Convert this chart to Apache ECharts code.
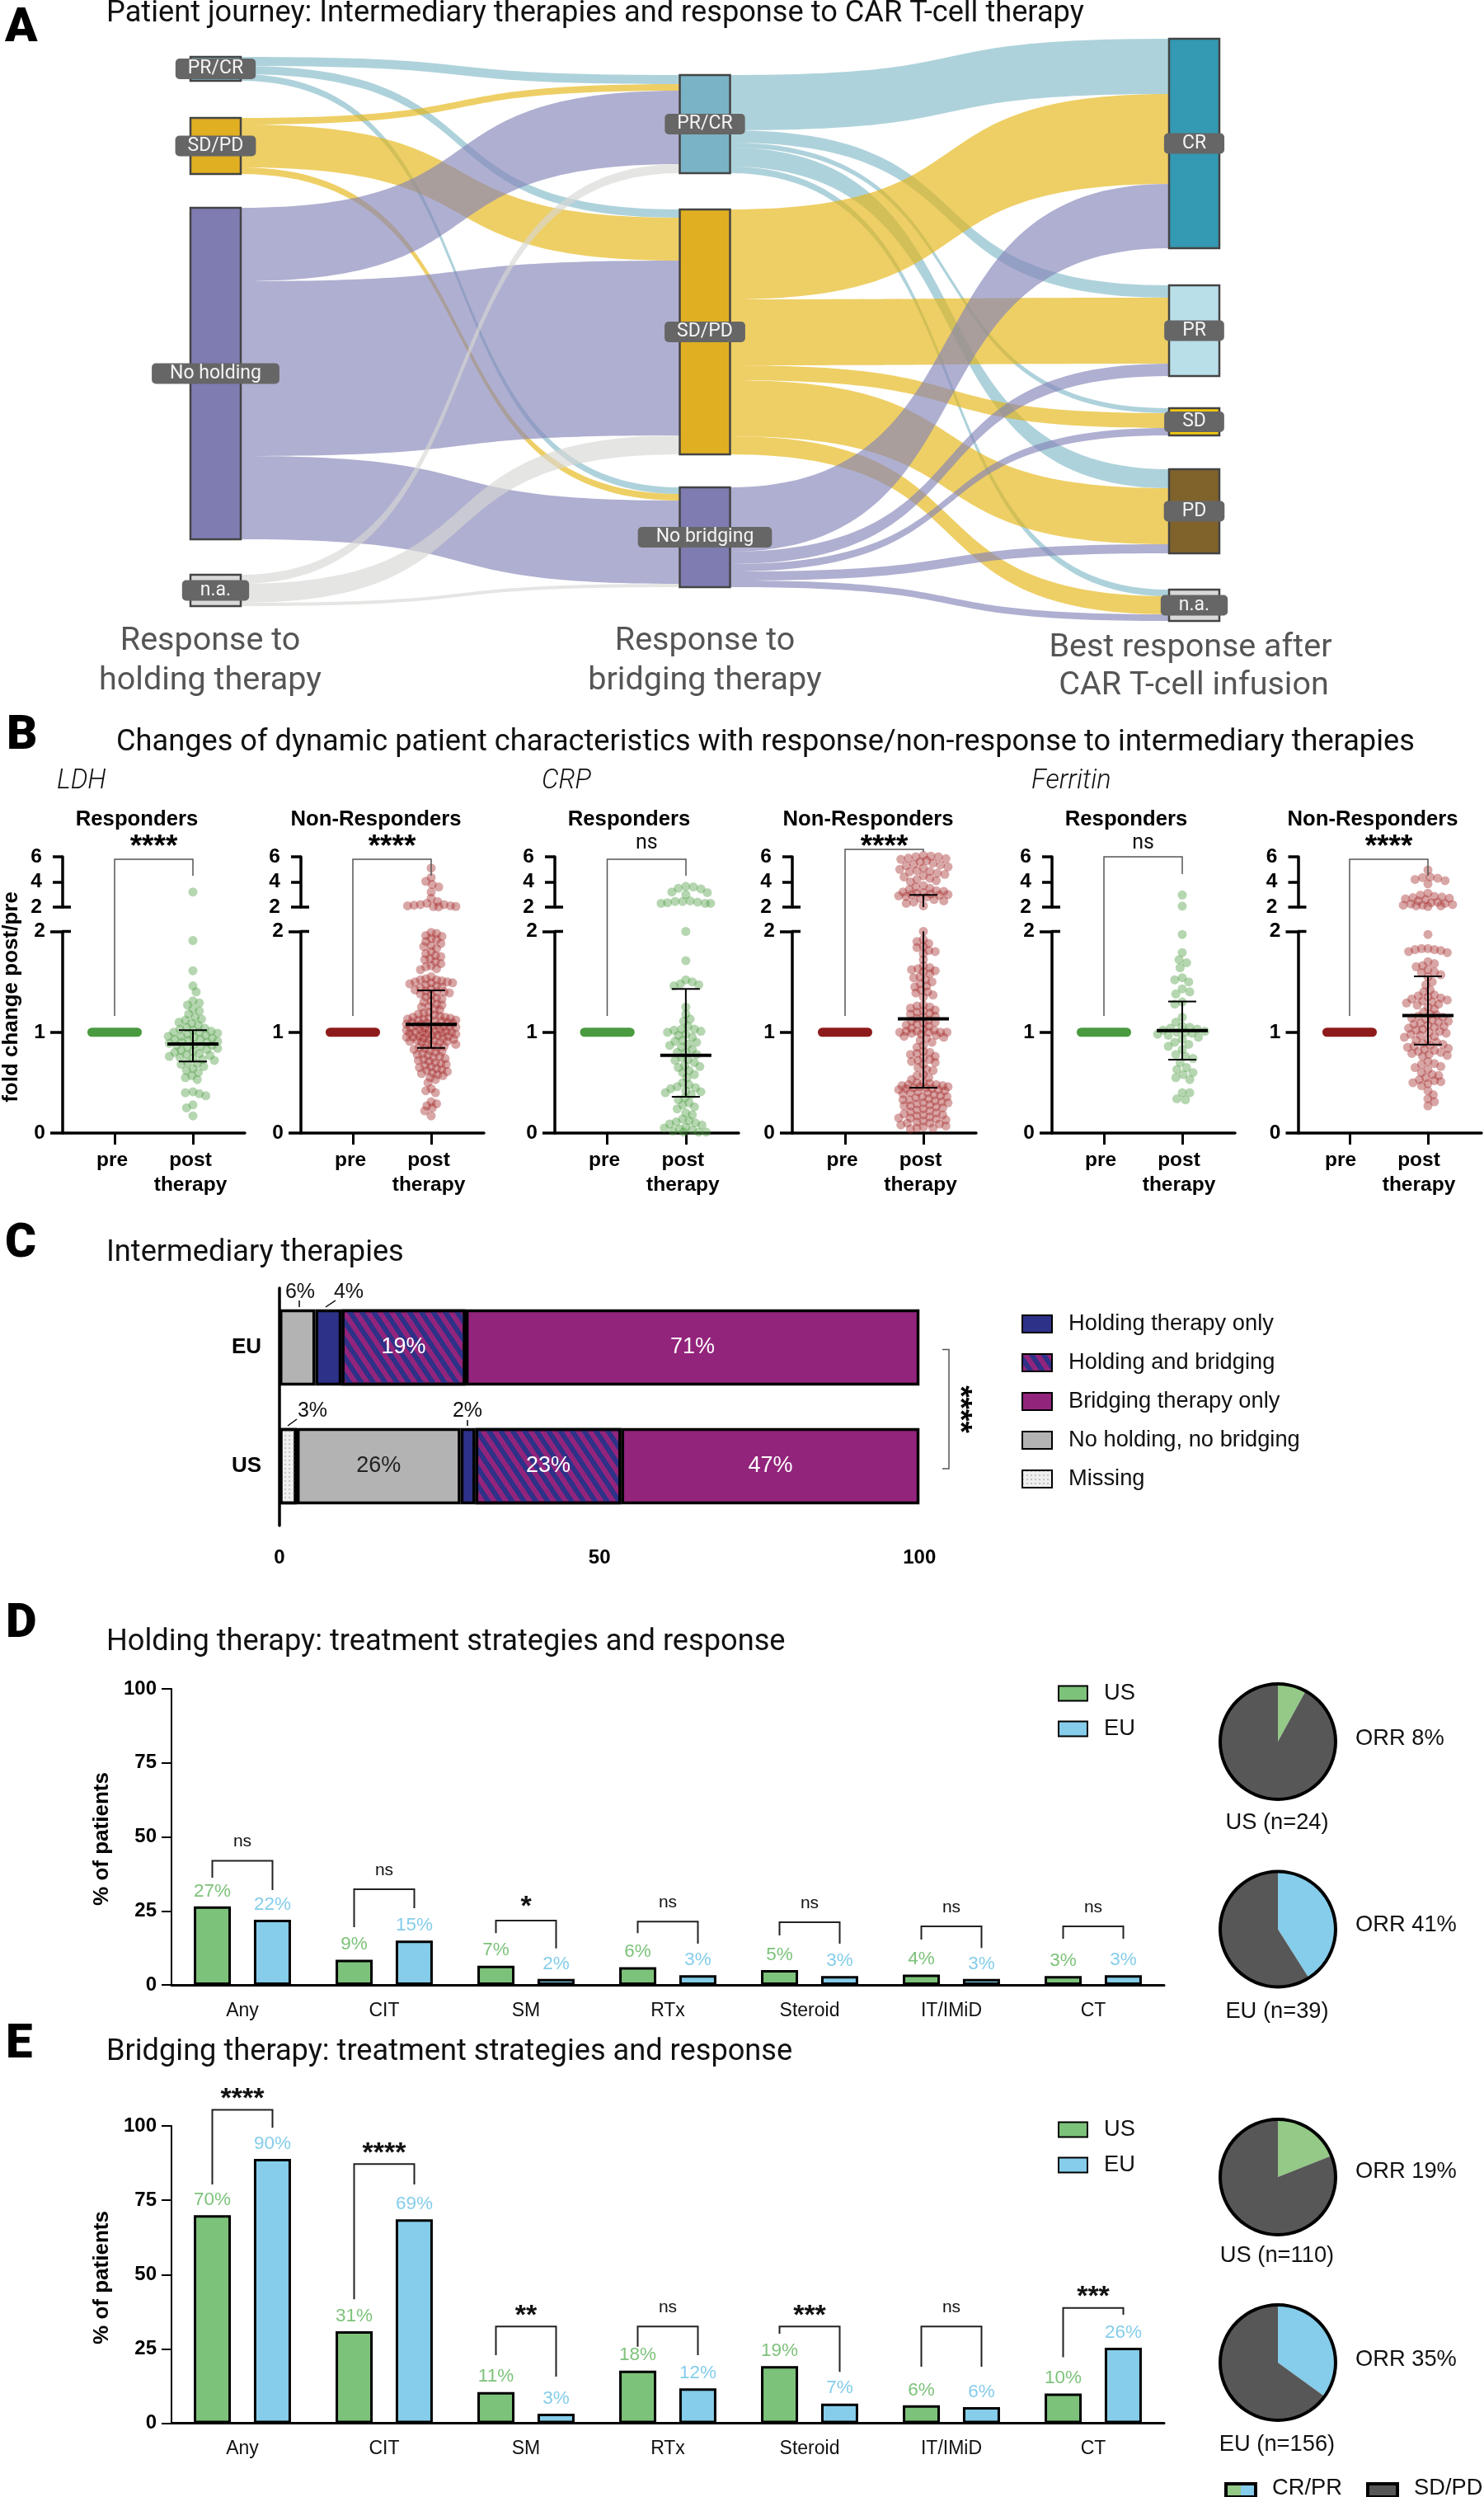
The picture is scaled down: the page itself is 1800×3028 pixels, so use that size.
<!DOCTYPE html>
<html><head><meta charset="utf-8">
<style>html,body{margin:0;padding:0;background:#fff}#c{width:1800px;height:3028px}</style>
<script src="https://cdn.jsdelivr.net/npm/echarts@6/dist/echarts.min.js"></script>
</head><body><div id="c"></div>
<script>
// ---------- Panel A data ----------
const holdingStates = ['PR/CR','SD/PD','No holding','n.a.'];
const bridgingStates = ['PR/CR','SD/PD','No bridging'];
const bestStates = ['CR','PR','SD','PD','n.a.'];
const fromHoldingPRCR = [11,10,8];
const fromHoldingSDPD = [8,52,8];
const fromHoldingNone = [89,212,101];
const fromHoldingNA = [11,23,4];
const fromBridgingPRCR = [67,15,6,23,8];
const fromBridgingSDPD = [109,80,18,68,22];
const fromBridgingNone = [78,15,9,11,8];

// ---------- Panel B data ----------
const panelNames = ['LDH R','LDH NR','CRP R','CRP NR','Ferritin R','Ferritin NR'];
const ldhR = [3.2,1.91,1.61,1.46,1.40,1.31,1.29,1.27,1.23,1.21,1.18,1.15,1.13,1.12,1.10,1.09,1.07,1.05,1.04,1.03,1.02,1.01,1.00,1.00,.99,.98,.97,.96,.96,.95,.94,.93,.93,.92,.91,.90,.90,.89,.88,.87,.87,.86,.85,.84,.83,.82,.81,.80,.79,.78,.77,.76,.75,.74,.73,.72,.70,.69,.68,.66,.64,.62,.60,.57,.55,.53,.41,.40,.39,.37,.28,.25,.17];
const ldhNR = [5.1,4.35,4.05,3.8,3.6,3.2,2.7,2.45,2.3,2.2,2.2,2.15,2.1,2.1,2.05,2.05,2.02,1.99,1.98,1.96,1.95,1.93,1.92,1.90,1.88,1.86,1.85,1.83,1.80,1.78,1.76,1.75,1.73,1.72,1.70,1.68,1.66,1.65,1.63,1.62,1.55,1.53,1.52,1.52,1.51,1.50,1.50,1.49,1.49,1.48,1.47,1.46,1.45,1.44,1.43,1.42,1.41,1.40,1.40,1.39,1.38,1.37,1.35,1.34,1.33,1.31,1.30,1.28,1.27,1.26,1.25,1.23,1.22,1.20,1.19,1.18,1.17,1.16,1.15,1.15,1.14,1.14,1.13,1.13,1.12,1.12,1.11,1.11,1.10,1.10,1.09,1.09,1.08,1.08,1.07,1.07,1.06,1.06,1.05,1.05,1.04,1.04,1.03,1.03,1.02,1.02,1.01,1.01,1.00,1.00,1.00,.99,.99,.98,.98,.97,.97,.96,.96,.95,.95,.94,.94,.93,.93,.92,.92,.91,.91,.90,.90,.89,.88,.87,.86,.85,.85,.84,.83,.82,.81,.80,.79,.78,.77,.76,.75,.74,.73,.72,.71,.70,.69,.68,.67,.66,.65,.64,.63,.62,.61,.60,.59,.58,.57,.55,.53,.50,.44,.42,.40,.31,.29,.27,.25,.22,.17];
const crpR = [3.65,3.6,3.5,3.45,3.2,3.15,3.0,2.5,2.45,2.45,2.4,2.35,2.3,2.3,2.3,2.0,1.71,1.52,1.50,1.48,1.47,1.46,1.25,1.18,1.13,1.11,1.06,1.03,1.03,1.02,1.01,1.00,.98,.97,.95,.92,.91,.90,.88,.87,.85,.83,.80,.80,.78,.75,.73,.72,.70,.67,.66,.65,.62,.60,.58,.55,.50,.48,.46,.45,.44,.42,.41,.40,.38,.35,.33,.30,.28,.26,.24,.20,.18,.14,.12,.11,.10,.09,.08,.06,.05,.04,.03,.02,.01,.01,.01];
const crpNR = [6.1,6.05,6.0,6.0,5.9,5.85,5.8,5.7,5.6,5.5,5.4,5.35,5.3,5.2,5.1,5.0,4.9,4.85,4.8,4.7,4.6,4.5,4.4,4.3,4.2,4.1,4.0,3.7,3.6,3.5,3.4,3.3,3.25,3.2,3.15,3.1,3.05,3.0,3.0,2.95,2.9,2.85,2.8,2.7,2.6,2.5,2.4,2.3,2.1,2.0,1.92,1.90,1.88,1.85,1.84,1.81,1.80,1.78,1.72,1.66,1.64,1.63,1.62,1.61,1.60,1.58,1.55,1.54,1.52,1.50,1.48,1.46,1.45,1.42,1.40,1.39,1.37,1.35,1.27,1.26,1.25,1.24,1.22,1.21,1.20,1.19,1.18,1.16,1.15,1.14,1.12,1.11,1.10,1.09,1.08,1.07,1.06,1.04,1.03,1.02,1.01,1.01,1.00,1.00,1.00,1.00,.99,.98,.97,.96,.95,.94,.92,.90,.87,.85,.81,.80,.79,.78,.76,.75,.73,.72,.71,.70,.68,.65,.63,.62,.58,.57,.55,.53,.50,.50,.49,.48,.48,.47,.47,.46,.46,.45,.45,.44,.44,.43,.43,.42,.41,.40,.40,.39,.38,.37,.36,.36,.35,.34,.33,.33,.32,.31,.30,.30,.29,.28,.27,.27,.26,.25,.24,.23,.22,.21,.20,.19,.18,.18,.17,.16,.15,.15,.14,.13,.12,.11,.10,.10,.09,.08,.07,.06,.05,.05,.04];
const ferR = [2.96,2.08,1.97,1.79,1.72,1.69,1.64,1.54,1.52,1.50,1.43,1.40,1.38,1.30,1.28,1.15,1.10,1.06,1.05,1.04,1.03,1.02,1.01,1.00,1.00,.99,.98,.97,.95,.93,.90,.88,.86,.83,.78,.76,.74,.70,.65,.63,.60,.58,.55,.53,.40,.40,.34,.33];
const ferNR = [4.95,4.4,4.35,4.3,4.2,4.1,3.85,3.1,2.95,2.85,2.8,2.75,2.7,2.65,2.6,2.5,2.4,2.35,2.3,2.25,2.2,2.15,2.15,2.1,2.1,2.05,1.97,1.83,1.83,1.82,1.82,1.81,1.80,1.79,1.70,1.68,1.66,1.65,1.62,1.60,1.59,1.57,1.55,1.50,1.47,1.42,1.40,1.37,1.36,1.35,1.34,1.33,1.32,1.31,1.30,1.29,1.28,1.27,1.25,1.23,1.20,1.18,1.17,1.16,1.15,1.14,1.13,1.12,1.11,1.10,1.09,1.08,1.07,1.06,1.05,1.04,1.03,1.02,1.01,1.00,.99,.98,.97,.96,.95,.93,.92,.90,.89,.88,.87,.86,.85,.84,.83,.82,.81,.80,.79,.78,.77,.76,.71,.69,.68,.66,.65,.63,.60,.58,.57,.55,.53,.52,.51,.50,.49,.47,.42,.38,.34,.31,.27];
const postValues = [ldhR,ldhNR,crpR,crpNR,ferR,ferNR];
const means = [.883,1.078,.77,1.133,1.016,1.166];
const errLow = [.71,.844,.36,.45,.727,.877];
const errHigh = [1.02,1.416,1.43,2.96,1.305,1.555];
const sigB = ['****','****','ns','****','ns','****'];
const panelTitles = ['Responders','Non-Responders','Responders','Non-Responders','Responders','Non-Responders'];

// ---------- Panel C data ----------
const regions = ['US','EU'];
const missing = [2.7,null];
const noneTherapy = [25.6,5.6];
const holdingOnly = [2.3,4.1];
const holdBridge = [22.8,19.4];
const bridgingOnly = [46.6,70.9];

// ---------- Panels D / E data ----------
const drugClasses = ['Any','CIT','SM','RTx','Steroid','IT/IMiD','CT'];
const holdUS = [26.5,8.5,6.5,6,5,3.5,3];
const holdEU = [22,15,2,3.3,3,2,3.3];
const holdUSLabels = [27,9,7,6,5,4,3];
const holdEULabels = [22,15,2,3,3,3,3];
const holdSig = ['ns','ns','*','ns','ns','ns','ns'];
const holdBrackets = [[41.9,36.2,32],[32.3,19.5,25.9],[21.7,17.5,12.3],[21.4,17.5,13.9],[21.2,16.7,13.9],[19.8,15.3,12.5],[19.8,15.6,15.6]];
const bridgeUS = [70,30.9,10.5,17.7,19.2,6,10];
const bridgeEU = [88.9,68.6,3.2,11.7,6.6,5.4,25.4];
const bridgeUSLabels = [70,31,11,18,19,6,10];
const bridgeEULabels = [90,69,3,12,7,6,26];
const bridgeSig = ['****','****','**','ns','***','ns','***'];
const bridgeBrackets = [[105.4,80.3,99.4],[87.2,41.7,80.3],[32.5,22.9,15.7],[32.5,25.7,22.9],[32.5,30.1,17.3],[32.5,19,19],[38.8,22.2,36.5]];
const orrHoldUS = [8,92], orrHoldEU = [41,59], orrBridgeUS = [19,81], orrBridgeEU = [35,65];

// ---------- Styles and layout ----------
const SANS='"Liberation Sans",Arial,sans-serif', ROB='Roboto,sans-serif';
const GREEN='#7dc27a', BLUE='#85cdea', PIEG='#94c987', DARK='#575757';
const chart = echarts.init(document.getElementById('c'),null,{renderer:'canvas'});
const grid=[],xAxis=[],yAxis=[],series=[],graphic=[];
function T(x,y,text,o){o=o||{};graphic.push({type:'text',x:x,y:y,rotation:o.rot||0,z:50,silent:true,style:{text:text,fill:o.color||'#111',fontFamily:o.family||SANS,fontSize:o.size||26,fontWeight:o.weight||'normal',fontStyle:o.style||'normal',textAlign:o.align||'left',textVerticalAlign:'middle',lineHeight:o.lh}});}
function L(pts,w,c){graphic.push({type:'polyline',z:49,silent:true,shape:{points:pts},style:{stroke:c||'#000',lineWidth:w,fill:null}});}
function STARS(x,y,s,size){T(x,y+size*0.2,s,{size:size,weight:'bold',align:'center',color:'#000'});}

// Panel letters + titles
[['A',6,35],['B',8,893],['C',6,1509],['D',7,1970],['E',7,2480]].forEach(a=>T(a[1],a[2],a[0],{family:ROB,weight:900,size:58,color:'#000'}));
[['Patient journey: Intermediary therapies and response to CAR T-cell therapy',129,17],
 ['Changes of dynamic patient characteristics with response/non-response to intermediary therapies',141,901],
 ['Intermediary therapies',129,1520],['Holding therapy: treatment strategies and response',129,1992],
 ['Bridging therapy: treatment strategies and response',129,2489]].forEach(a=>T(a[1],a[2],a[0],{family:ROB,size:36.2,weight:400}));

// ---------- Panel A: sankey ----------
const nodeColH=['#7ab3c5','#e0af22','#7e7cb0','#d9d9d9'];
const nodeColB=['#7ab3c5','#e0af22','#7e7cb0'];
const nodeColR=['#3499b3','#b9dfe9','#f3c80f','#7f632a','#d9d9d9'];
const nodeTopH=[69,143,252,697], nodeTopB=[91,254,591], nodeTopR=[47,346,495,569,715];
const linkCol=['#82bac7','#e5b512','#8484b8','#d7d7d4'];
const SH=760;
function snode(prefix,name,color,top){const lab=name;const pad=(name==='PR/CR'||name==='SD/PD')?15:22;
 return {name:prefix+name,localY:top/SH,itemStyle:{color:color,borderColor:'#444',borderWidth:2.5},
  label:{show:true,position:'inside',formatter:lab,color:'#f4f4f4',backgroundColor:'#666',borderRadius:5,padding:[1,pad],fontFamily:ROB,fontSize:23}};}
const snodes=[...holdingStates.map((n,i)=>snode('h:',n,nodeColH[i],nodeTopH[i])),
 ...bridgingStates.map((n,i)=>snode('b:',n,nodeColB[i],nodeTopB[i])),
 ...bestStates.map((n,i)=>snode('r:',n,nodeColR[i],nodeTopR[i]))];
const slinks=[];
[fromHoldingPRCR,fromHoldingSDPD,fromHoldingNone,fromHoldingNA].forEach((row,s)=>row.forEach((v,t)=>slinks.push({source:'h:'+holdingStates[s],target:'b:'+bridgingStates[t],value:v,lineStyle:{color:linkCol[s],opacity:.65}})));
[fromBridgingPRCR,fromBridgingSDPD,fromBridgingNone].forEach((row,s)=>row.forEach((v,t)=>slinks.push({source:'b:'+bridgingStates[s],target:'r:'+bestStates[t],value:v,lineStyle:{color:linkCol[s],opacity:.65}})));
const total=[fromBridgingPRCR,fromBridgingSDPD,fromBridgingNone].flat().reduce((a,b)=>a+b,0);
series.push({type:'sankey',left:231,top:0,width:1248,height:SH,nodeWidth:61,nodeGap:(SH-total)/4,layoutIterations:0,draggable:false,silent:true,emphasis:{disabled:true},
 lineStyle:{curveness:.62,opacity:.65},data:snodes,links:slinks});
const capt={family:ROB,size:39.5,color:'#555',align:'center'};
T(255,778,'Response to',capt);T(255,826,'holding therapy',capt);
T(855,778,'Response to',capt);T(855,826,'bridging therapy',capt);
T(1444,786,'Best response after',capt);T(1448,832,'CAR T-cell infusion',capt);

// ---------- Panel B: swarm plots ----------
const pAxis=[76,365,673,961,1276,1574.5], pPre=[139,428,736.5,1025,1339,1637], pPost=[234,523,832,1120,1434,1732], pRight=[297,587,896,1184,1498,1797];
const pLabelPad=[6,6,7,7,8,22];
const pColor=['#4f9e43','#a42a2a'], pPreCol=['#4a9a3f','#8e1b1b'];
const pSpacing=[8,6.6,8,7.2,9,7.6];
const LO_T=1129.5,LO_H=244.5,UP_T=1039,UP_H=61;
function swarm(vals,pxPerUnit,d){const placed=[];const out=[];const step=1.3,maxH=31;
 vals.slice().sort((a,b)=>b-a).forEach((v,i)=>{const yp=v*pxPerUnit;let found=null,bestD=-1,bestO=0;
  const sign=i%2?1:-1;
  for(let k=0;k<=2*maxH/step;k++){const off=sign*(k%2?1:-1)*Math.ceil(k/2)*step;if(Math.abs(off)>maxH)break;
   let m=1e9;for(const p of placed){const dd=Math.hypot(p[0]-off,p[1]-yp);if(dd<m)m=dd;}
   if(m>=d){found=off;break;} if(m>bestD){bestD=m;bestO=off;}}
  const o=found!==null?found:bestO;placed.push([o,yp]);out.push([2+o/95,v]);});
 return out;}
panelNames.forEach((nm,i)=>{
 const ax=pAxis[i],cl=(i%2),sp=95;
 const xmin=1-(pPre[i]-ax)/sp,xmax=2+(pRight[i]-pPost[i])/sp;
 const gLo=grid.length;grid.push({left:ax,top:LO_T,width:pRight[i]-ax,height:LO_H});
 const gUp=grid.length;grid.push({left:ax,top:UP_T,width:pRight[i]-ax,height:UP_H});
 const lbl={fontFamily:SANS,fontWeight:'bold',fontSize:24.5,color:'#000'};
 xAxis.push({gridIndex:gLo,type:'value',min:xmin,max:xmax,splitLine:{show:false},axisLine:{onZero:false,lineStyle:{color:'#000',width:3.5}},
   axisTick:{customValues:[1,2],length:14,lineStyle:{color:'#000',width:3}},axisLabel:Object.assign({},lbl,{customValues:[1,2],margin:18,lineHeight:30,padding:[0,pLabelPad[i],0,0],formatter:v=>v===1?'pre':'post\ntherapy'})});
 xAxis.push({gridIndex:gUp,type:'value',min:xmin,max:xmax,show:false,splitLine:{show:false}});
 yAxis.push({gridIndex:gLo,type:'value',min:0,max:2,interval:1,splitLine:{show:false},axisLine:{show:true,onZero:false,lineStyle:{color:'#000',width:3.5}},axisTick:{show:true,length:15,lineStyle:{color:'#000',width:3.5}},axisLabel:Object.assign({},lbl,{margin:21})});
 yAxis.push({gridIndex:gUp,type:'value',min:2,max:6,interval:2,splitLine:{show:false},axisLine:{show:true,onZero:false,lineStyle:{color:'#000',width:3.5}},axisTick:{show:true,length:12,lineStyle:{color:'#000',width:3.5}},axisLabel:Object.assign({},lbl,{margin:25})});
 L([[ax,UP_T+UP_H],[ax+10,UP_T+UP_H]],3.5);L([[ax,LO_T],[ax+10,LO_T]],3.5);
 const xa=xAxis.length-2,ya=yAxis.length-2;
 const vals=postValues[i];
 const mk=(data,xi,yi)=>({type:'scatter',xAxisIndex:xi,yAxisIndex:yi,data:data,symbolSize:11,clip:false,silent:true,itemStyle:{color:pColor[cl],opacity:.42},z:3});
 series.push(mk(swarm(vals.filter(v=>v<=2),LO_H/2,pSpacing[i]),xa,ya));
 series.push(mk(swarm(vals.filter(v=>v>2),UP_H/4,pSpacing[i]+1),xa+1,ya+1));
 series.push({type:'line',xAxisIndex:xa,yAxisIndex:ya,data:[[1-.29,1],[1+.29,1]],showSymbol:false,silent:true,lineStyle:{color:pPreCol[cl],width:11,cap:'round'},z:4});
 const hi=errHigh[i];
 series.push({type:'custom',xAxisIndex:xa,yAxisIndex:ya,silent:true,z:6,encode:{x:0,y:1},data:[[2,means[i],errLow[i],hi]],
  renderItem:(p,api)=>{const c=(x,y)=>api.coord([x,y]);const m=c(2,api.value(1)),lo=c(2,api.value(2)),h=api.value(3),up=c(2,Math.min(h,2));
   const ln=(a,b,w)=>({type:'line',shape:{x1:a[0],y1:a[1],x2:b[0],y2:b[1]},style:{stroke:'#000',lineWidth:w}});
   const ch=[ln([m[0]-31,m[1]],[m[0]+31,m[1]],4),ln(lo,up,2),ln([lo[0]-17,lo[1]],[lo[0]+17,lo[1]],2)];
   if(h<=2)ch.push(ln([up[0]-17,up[1]],[up[0]+17,up[1]],2));
   return {type:'group',children:ch};}});
 if(hi>2)series.push({type:'custom',xAxisIndex:xa+1,yAxisIndex:ya+1,silent:true,z:6,encode:{x:0,y:1},data:[[2,hi]],
  renderItem:(p,api)=>{const a=api.coord([2,2]),b=api.coord([2,api.value(1)]);
   const ln=(a,b,w)=>({type:'line',shape:{x1:a[0],y1:a[1],x2:b[0],y2:b[1]},style:{stroke:'#000',lineWidth:w}});
   return {type:'group',children:[ln(a,b,2),ln([b[0]-17,b[1]],[b[0]+17,b[1]],2)]};}});
 // significance bracket
 const top=i===3?1030:(i===4?1039:1042), rl=i===3?1033:(i===4?1060:1062);
 L([[pPre[i],1232],[pPre[i],top],[pPost[i],top],[pPost[i],rl]],1.5,'#555');
 const cx=(pPre[i]+pPost[i])/2;
 if(sigB[i]==='ns')T(cx,1023,'ns',{size:25,align:'center',color:'#111',family:ROB});else STARS(cx,1020,sigB[i],37);
 T([166,456,763,1053,1366,1665][i],994,panelTitles[i],{size:25.7,weight:'bold',align:'center',color:'#000'});
});
const ital={family:ROB,size:32.5,style:'italic',weight:300};
T(69,948,'LDH',ital);T(657,948,'CRP',ital);T(1251,948,'Ferritin',ital);
T(14,1209,'fold change post/pre',{size:26,weight:'bold',rot:Math.PI/2,align:'center',color:'#000'});

// ---------- Panel C: stacked bars ----------
const gC=grid.length;grid.push({left:339,top:1562,width:812,height:288});
xAxis.push({gridIndex:gC,type:'value',min:0,max:104.6,splitLine:{show:false},axisLine:{lineStyle:{color:'#000',width:4.5}},
 axisTick:{customValues:[0,25,50,75,100],length:14,lineStyle:{color:'#000',width:3.5}},
 axisLabel:{customValues:[0,50,100],margin:27,fontFamily:SANS,fontWeight:'bold',fontSize:24,color:'#000'}});
yAxis.push({gridIndex:gC,type:'category',data:regions,axisLine:{lineStyle:{color:'#000',width:3.5}},axisTick:{length:17,alignWithLabel:true,lineStyle:{color:'#000',width:4.5}},
 axisLabel:{margin:22,fontFamily:SANS,fontWeight:'bold',fontSize:26,color:'#000'}});
const xC=xAxis.length-1,yC=yAxis.length-1;
const stripe={symbol:'rect',rotation:Math.PI/3.2,dashArrayX:[1,0],dashArrayY:[6,6],symbolSize:1,color:'#2e3188'};
const dots={symbol:'rect',symbolSize:1,dashArrayX:[2,3],dashArrayY:[2,3],color:'#c4c4c4'};
function cBar(name,data,color,labelColor,decal){series.push({type:'bar',name:name,xAxisIndex:xC,yAxisIndex:yC,stack:'c',data:data,barWidth:92.5,silent:true,
 itemStyle:{color:color,borderColor:'#000',borderWidth:3.5,decal:decal},
 label:{show:true,position:'inside',color:labelColor,fontFamily:SANS,fontSize:27,formatter:p=>(p.value>=10?Math.round(p.value)+'%':'')}});}
cBar('Missing',missing,'#efefef','#222',dots);
cBar('No holding, no bridging',noneTherapy,'#b3b3b3','#222');
cBar('Holding therapy only',holdingOnly,'#2e3188','#fff');
cBar('Holding and bridging',holdBridge,'#93247c','#fff',stripe);
cBar('Bridging therapy only',bridgingOnly,'#93247c','#fff');
T(364,1567,'6%',{size:25,align:'center'});T(423,1567,'4%',{size:25,align:'center'});
T(379,1711,'3%',{size:25,align:'center'});T(567,1711,'2%',{size:25,align:'center'});
L([[363,1577],[363,1585]],1.5);L([[407,1577],[395,1585]],1.5);L([[360,1721],[349,1729]],1.5);L([[567,1722],[567,1729]],1.5);
L([[1143,1636.5],[1151,1636.5],[1151,1781],[1143,1781]],1.5,'#555');
T(1163,1709,'****',{size:37,weight:'bold',align:'center',rot:-Math.PI/2,color:'#000'});

// ---------- Panels D/E: grouped bars ----------
function barPanel(top,h,maxV,us,eu,usL,euL,sig,br,sigOff){
 const g=grid.length;grid.push({left:208,top:top,width:1204,height:h});
 xAxis.push({gridIndex:g,type:'category',data:drugClasses,axisLine:{lineStyle:{color:'#000',width:3}},axisTick:{alignWithLabel:true,length:14,lineStyle:{color:'#000',width:2}},axisLabel:{margin:20,fontFamily:SANS,fontSize:23,color:'#111'}});
 yAxis.push({gridIndex:g,type:'value',min:0,max:100,interval:25,splitLine:{show:false},axisLine:{show:true,lineStyle:{color:'#000',width:2}},axisTick:{show:true,length:12,lineStyle:{color:'#000',width:2}},axisLabel:{margin:18,fontFamily:SANS,fontWeight:'bold',fontSize:24,color:'#000'}});
 const xi=xAxis.length-1,yi=yAxis.length-1;
 const mk=(name,data,color,labels)=>({type:'bar',name:name,xAxisIndex:xi,yAxisIndex:yi,data:data,barWidth:45,barGap:'62%',silent:true,itemStyle:{color:color,borderColor:'#000',borderWidth:3},
   label:{show:true,position:'top',distance:7,color:color,fontFamily:SANS,fontSize:22.5,formatter:p=>labels[p.dataIndex]+'%'}});
 series.push(mk('US',us,GREEN,usL),mk('EU',eu,BLUE,euL));
 series.push({type:'custom',xAxisIndex:xi,yAxisIndex:yi,silent:true,z:6,encode:{x:0,y:1},clip:false,
  data:br.map((b,i)=>[i,b[0],b[1],b[2]]),
  renderItem:(p,api)=>{const i=api.value(0),t=api.coord([i,api.value(1)]),l=api.coord([i,api.value(2)]),r=api.coord([i,api.value(3)]);
   const s=sig[i],ns=s==='ns';
   return {type:'group',children:[
    {type:'polyline',shape:{points:[[t[0]-36.5,l[1]],[t[0]-36.5,t[1]],[t[0]+36.5,t[1]],[t[0]+36.5,r[1]]]},style:{stroke:'#222',lineWidth:2,fill:null}},
    {type:'text',style:{text:s,x:t[0],y:t[1]-(ns?sigOff[0]:sigOff[1]),textAlign:'center',textVerticalAlign:'middle',fontFamily:SANS,fontSize:ns?21:34,fontWeight:ns?'normal':'bold',fill:'#111'}}]};}});
}
barPanel(2048,359,100,holdUS,holdEU,holdUSLabels,holdEULabels,holdSig,holdBrackets,[23,16]);
barPanel(2578,360.5,100,bridgeUS,bridgeEU,bridgeUSLabels,bridgeEULabels,bridgeSig,bridgeBrackets,[23,13]);
T(124,2230,'% of patients',{size:26,weight:'bold',rot:Math.PI/2,align:'center',color:'#000'});
T(124,2762,'% of patients',{size:26,weight:'bold',rot:Math.PI/2,align:'center',color:'#000'});

// ---------- Pies ----------
function pie(cy,vals,col,text,orrY,orr,nY){
 series.push({type:'pie',center:[1550,cy],radius:[0,69],startAngle:90,silent:true,label:{show:false},labelLine:{show:false},itemStyle:{borderWidth:0},
  data:[{name:'CR/PR',value:vals[0],itemStyle:{color:col}},{name:'SD/PD',value:vals[1],itemStyle:{color:DARK}}]});
 series.push({type:'pie',center:[1550,cy],radius:[68,72],silent:true,label:{show:false},labelLine:{show:false},data:[{name:'ring',value:1,itemStyle:{color:'#000'}}]});
 T(1644,orrY,orr,{size:27.3});T(1549,nY,text,{size:27.3,align:'center'});
}
pie(2112,orrHoldUS,PIEG,'US (n=24)',2108,'ORR 8%',2210);
pie(2339.5,orrHoldEU,BLUE,'EU (n=39)',2334,'ORR 41%',2439);
pie(2640,orrBridgeUS,PIEG,'US (n=110)',2633.5,'ORR 19%',2735.5);
pie(2865,orrBridgeEU,BLUE,'EU (n=156)',2861,'ORR 35%',2964.5);
graphic.push({type:'rect',z:40,silent:true,shape:{x:1487,y:3012,width:18,height:16},style:{fill:PIEG}});
graphic.push({type:'rect',z:40,silent:true,shape:{x:1505,y:3012,width:18,height:16},style:{fill:BLUE}});
graphic.push({type:'rect',z:41,silent:true,shape:{x:1487,y:3012,width:36,height:16},style:{fill:null,stroke:'#000',lineWidth:4}});
graphic.push({type:'rect',z:40,silent:true,shape:{x:1659,y:3012,width:36,height:16},style:{fill:DARK,stroke:'#000',lineWidth:4}});
T(1543,3017,'CR/PR',{size:27.3});T(1715,3017,'SD/PD',{size:27.3});

const legText={fontFamily:SANS,fontSize:27.3,color:'#111',padding:[0,0,0,15]};
const option={animation:false,backgroundColor:'#fff',grid,xAxis,yAxis,series,
 graphic:{elements:graphic},
 legend:[
  {left:1239,top:1592,padding:0,orient:'vertical',itemWidth:36,itemHeight:21,itemGap:20,selectedMode:false,textStyle:legText,icon:'rect',
   data:['Holding therapy only','Holding and bridging','Bridging therapy only','No holding, no bridging','Missing']},
  {left:1283,top:2040,padding:0,orient:'vertical',itemWidth:35,itemHeight:18,itemGap:16,selectedMode:false,textStyle:legText,icon:'rect',data:['US','EU']},
  {left:1283,top:2569,padding:0,orient:'vertical',itemWidth:35,itemHeight:18,itemGap:16,selectedMode:false,textStyle:legText,icon:'rect',data:['US','EU']}]};
chart.setOption(option);
</script></body></html>
